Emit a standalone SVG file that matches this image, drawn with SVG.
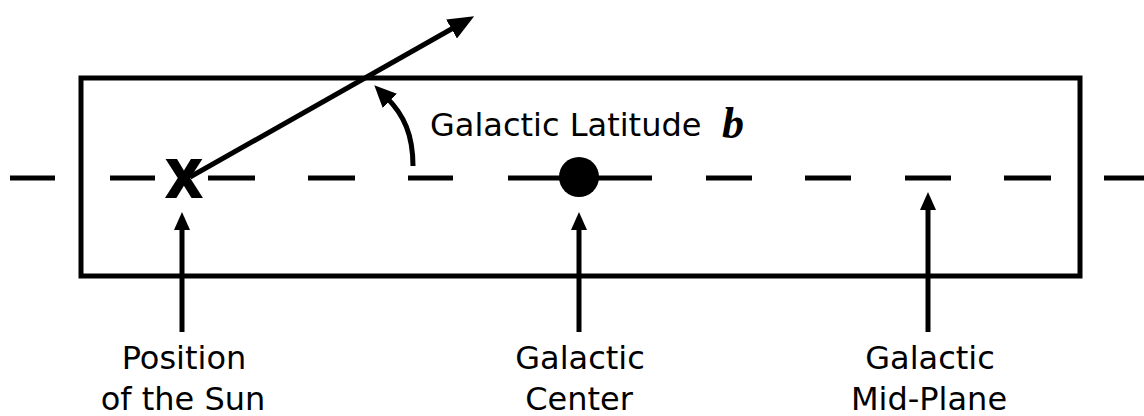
<svg xmlns="http://www.w3.org/2000/svg" width="1144" height="416" viewBox="0 0 1144 416">
  <style>
    .lbl { font-family: "DejaVu Sans", Verdana, sans-serif; font-size: 32px; fill: #000; }
    .ln { stroke: #000; stroke-width: 5; fill: none; }
  </style>
  <defs>
    <marker id="head" viewBox="0 0 18 16" refX="4" refY="8" markerWidth="18" markerHeight="16" markerUnits="userSpaceOnUse" orient="auto">
      <path d="M0,0 L18,8 L0,16 z" fill="#000"/>
    </marker>
    <marker id="headL" viewBox="0 0 26 22" refX="4" refY="11" markerWidth="26" markerHeight="22" markerUnits="userSpaceOnUse" orient="auto">
      <path d="M0,0 L26,11 L0,22 z" fill="#000"/>
    </marker>
    <marker id="headM" viewBox="0 0 22 20" refX="4" refY="10" markerWidth="22" markerHeight="20" markerUnits="userSpaceOnUse" orient="auto">
      <path d="M0,0 L22,10 L0,20 z" fill="#000"/>
    </marker>
  </defs>
  <rect fill="#fff" x="0" y="0" width="1144" height="416"/>

  <g id="plane-box">
    <rect class="ln" x="81" y="78" width="999" height="198"/>
  </g>

  <g id="mid-plane-line">
    <path class="ln" d="M10,178 H55 M110,178 H155 M208,178 H255 M308,178 H355 M408,178 H453 M508,178 H652 M706,178 H752 M805,178 H851 M905,178 H951 M1004,178 H1051 M1104,178 H1144"/>
  </g>

  <g id="sun">
    <text x="184" y="198" text-anchor="middle" font-family="DejaVu Sans, sans-serif" font-weight="bold" font-size="72" transform="translate(184 0) scale(0.86 1) translate(-184 0)">x</text>
  </g>

  <g id="galactic-center">
    <circle cx="579" cy="177" r="20" fill="#000"/>
  </g>

  <g id="connectors">
    <line class="ln" stroke-width="4.5" x1="190" y1="177" x2="455" y2="27" marker-end="url(#headL)"/>
    <path class="ln" d="M413,166 C413,135 404,115 387,98" marker-end="url(#headM)"/>
    <line class="ln" x1="182" y1="332" x2="182" y2="226" marker-end="url(#head)"/>
    <line class="ln" x1="579" y1="332" x2="579" y2="226" marker-end="url(#head)"/>
    <line class="ln" x1="928" y1="332" x2="928" y2="206" marker-end="url(#head)"/>
  </g>

  <g id="latitude-label">
    <text class="lbl" x="430" y="136">Galactic Latitude</text>
    <text x="722" y="138" font-family="Liberation Serif, serif" font-style="italic" font-weight="bold" font-size="44">b</text>
  </g>

  <g id="label-sun">
    <text class="lbl" x="184" y="369" text-anchor="middle">Position</text>
    <text class="lbl" x="183" y="410" text-anchor="middle">of the Sun</text>
  </g>
  <g id="label-center">
    <text class="lbl" x="580" y="369" text-anchor="middle">Galactic</text>
    <text class="lbl" x="579" y="410" text-anchor="middle">Center</text>
  </g>
  <g id="label-midplane">
    <text class="lbl" x="930" y="369" text-anchor="middle">Galactic</text>
    <text class="lbl" x="929" y="410" text-anchor="middle">Mid-Plane</text>
  </g>
</svg>
